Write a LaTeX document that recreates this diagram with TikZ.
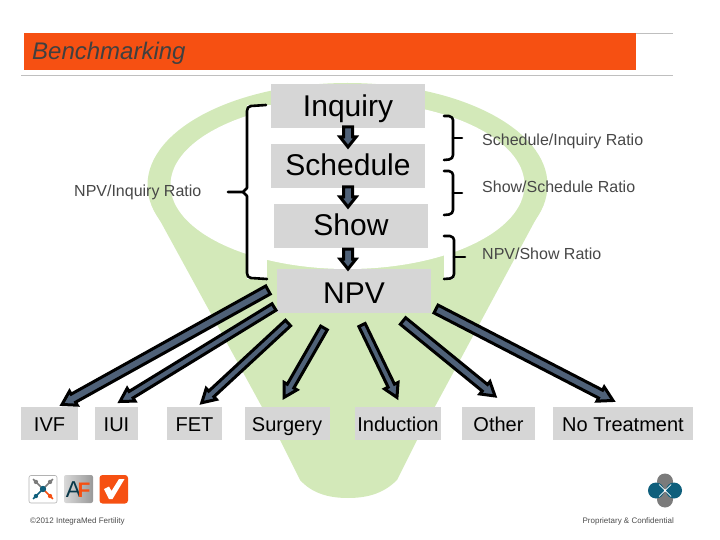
\documentclass[tikz,border=0pt]{standalone}
\usepackage{fontspec}
\setmainfont{Liberation Sans}
\usetikzlibrary{arrows.meta,calc}
\definecolor{fun}{HTML}{D3E9B9}
\definecolor{boxg}{HTML}{D6D6D6}
\definecolor{arr}{HTML}{4F6178}
\definecolor{orng}{HTML}{F65012}
\definecolor{teal}{HTML}{0F5F7C}
\definecolor{gry}{HTML}{7B7B7B}
\tikzset{
 lab/.style={fill=boxg,inner sep=0pt,text=black,anchor=center,align=center},
 big/.style={lab,font=\fontsize{30}{32}\selectfont,minimum width=154},
 small/.style={lab,font=\fontsize{20}{22}\selectfont,text height=24pt,text depth=9pt},
 ratio/.style={font=\fontsize{16}{18}\selectfont,text=black!72,anchor=west,inner sep=0pt},
 brk/.style={draw=black,line width=2.6pt,line cap=round,line join=round},
}
\newcommand{\fatarrow}[5]{% start end shaft head len
 \path let \p1=($(#2)-(#1)$), \n1={atan2(\y1,\x1)}, \n2={veclen(\x1,\y1)} in
 [shift={(#1)},rotate=\n1]
 [draw=black,line width=3pt,fill=arr,line join=miter,miter limit=3]
 (0pt,#3pt) -- (\n2-#5*1pt,#3pt) -- (\n2-#5*1pt,#4pt) -- (\n2,0pt) -- (\n2-#5*1pt,-#4pt) -- (\n2-#5*1pt,-#3pt) -- (0pt,-#3pt) -- cycle;
}
\begin{document}
\begin{tikzpicture}[x=1pt,y=-1pt]
\useasboundingbox (0,0) rectangle (720,540);
% funnel
\fill[fun] (347.5,185) ellipse [x radius=200,y radius=102];
\fill[fun] (151.5,205) -- (543.5,205) -- (417,440) -- (397,480) .. controls (385,492) and (370,498) .. (348,498)
 .. controls (326,498) and (311,492) .. (300,480) -- (280,440) -- cycle;
\fill[white] (347.5,185) ellipse [x radius=177,y radius=84];
% white interiors of the left and lower right braces
\fill[white] (247,105) rectangle (267,279);
\fill[white] (267,105) rectangle (272,128);
\fill[white] (444,236) rectangle (454,279);
% header
\draw[black!25,line width=0.8pt] (24,33.5) -- (673,33.5) (21,75.5) -- (673,75.5);
\fill[orng] (24,33) rectangle (636,70);
\node[inner sep=0pt,anchor=west,text=black!75,font=\itshape\fontsize{24}{26}\selectfont] (title) at (32,53.5) {Benchmarking};
% main boxes
\node[big,text height=33pt,text depth=11pt] (inq) at (348,106) {Inquiry};
\node[big,text height=32pt,text depth=12pt] (sch) at (348,166) {Schedule};
\node[big,text height=32pt,text depth=12pt] (shw) at (351,226) {Show};
\node[big,text height=34pt,text depth=10pt] (npv) at (354,291) {NPV};
% down arrows
\coordinate (a1) at (348,127); \coordinate (a2) at (348,147);
\coordinate (a3) at (348,187); \coordinate (a4) at (348,207);
\coordinate (a5) at (348,249); \coordinate (a6) at (348,269);
\fatarrow{a1}{a2}{4.5}{8}{10}
\fatarrow{a3}{a4}{4.5}{8}{10}
\fatarrow{a5}{a6}{4.5}{8}{10}
% left brace
\draw[brk] (266,105) -- (251,106) -- (248,107.5) -- (247,111) -- (247,188) -- (243,192) -- (228,192);
\draw[brk] (243,192) -- (247,196) -- (247,273) -- (248,276.5) -- (251,278) -- (267,279);
% right braces
\draw[brk] (444,116) -- (449,116) -- (452,117.5) -- (453,120) -- (453,155) -- (452,158) -- (449,159.5) -- (444,160);
\draw[brk] (453,138) -- (462,138);
\draw[brk] (444,171) -- (449,171) -- (452,172.5) -- (453,175) -- (453,210) -- (452,213) -- (449,214.5) -- (444,215);
\draw[brk] (453,193) -- (462,193);
\draw[brk] (444,236) -- (450,236) -- (453,237.5) -- (454,240) -- (454,274) -- (453,277) -- (450,278.5) -- (444,279);
\draw[brk] (454,257) -- (465,257);
% ratios
\node[ratio] (r1) at (482,141.5) {Schedule/Inquiry Ratio};
\node[ratio] (r2) at (482,187) {Show/Schedule Ratio};
\node[ratio] (r3) at (482,254) {NPV/Show Ratio};
\node[ratio] (r4) at (74,192.5) {NPV/Inquiry Ratio};
% bottom boxes
\node[small,minimum width=57] (ivf) at (49.5,423.5) {IVF};
\node[small,minimum width=43] (iui) at (116.5,423.5) {IUI};
\node[small,minimum width=55] (fet) at (194.5,423.5) {FET};
\node[small,minimum width=85] (sur) at (287,423.5) {Surgery};
\node[small,minimum width=86] (ind) at (398,423.5) {Induction};
\node[small,minimum width=73] (oth) at (498.5,423.5) {Other};
\node[small,minimum width=140] (not) at (623,423.5) {No Treatment};
% fan arrows
\coordinate (f1) at (268,290); \coordinate (g1) at (62,404.5);
\coordinate (f2) at (274,307); \coordinate (g2) at (120,401.5);
\coordinate (f3) at (288,323); \coordinate (g3) at (201.5,403);
\coordinate (f4) at (324,328); \coordinate (g4) at (284,397.5);
\coordinate (f5) at (362,325); \coordinate (g5) at (397,397.5);
\coordinate (f6) at (403,321); \coordinate (g6) at (495,396);
\coordinate (f7) at (436,309); \coordinate (g7) at (613,400.5);
\fatarrow{f1}{g1}{4.6}{8}{13}
\fatarrow{f2}{g2}{3.8}{7.5}{13}
\fatarrow{f3}{g3}{3.8}{7.5}{13}
\fatarrow{f4}{g4}{3.8}{7.5}{13}
\fatarrow{f5}{g5}{3.5}{7.5}{13}
\fatarrow{f6}{g6}{4.2}{8}{13}
\fatarrow{f7}{g7}{4.4}{8}{14}
% logos
\draw[black!30,fill=white,rounded corners=2pt,line width=0.6pt] (29,475.5) rectangle (57,503);
\foreach \c/\a in {orng/45,teal/135,gry/225,gry/315}{
 \draw[\c,line width=1.6pt] (43,489) -- ++(\a:14);
 \fill[\c] (43,489)++(\a:10) circle (2.2);
}
\fill[teal] (43,489) circle (3.2);
\path[left color=black!15,right color=black!40,rounded corners=2pt] (64,475) rectangle (93,503);
\node[inner sep=0pt,text=teal!60!black,font=\fontsize{23}{24}\selectfont] (la) at (73.5,490) {A};
\node[inner sep=0pt,text=orng,font=\bfseries\fontsize{21}{24}\selectfont] (lf) at (84,490) {F};
\fill[orng,rounded corners=3pt] (99.5,475) rectangle (128,503.5);
\fill[white] (104,489) -- (109,486.5) -- (111.5,491) -- (119,479) -- (124.5,479) -- (112.5,499) -- (109,499) -- cycle;
\fill[gry] (665,481.5) circle (8) (665,499.5) circle (8);
\fill[teal] (656,490.5) circle (8) (674,490.5) circle (8);
\draw[white,line width=0.7pt] (659,484.5) -- (671,496.5) (671,484.5) -- (659,496.5);
% footers
\node[inner sep=0pt,anchor=west,text=black!70,font=\fontsize{8}{10}\selectfont] (c1) at (30,521.5) {©2012 IntegraMed Fertility};
\node[inner sep=0pt,anchor=east,text=black!70,font=\fontsize{8}{10}\selectfont] (c2) at (674,521.5) {Proprietary \& Confidential};
\end{tikzpicture}
\end{document}
